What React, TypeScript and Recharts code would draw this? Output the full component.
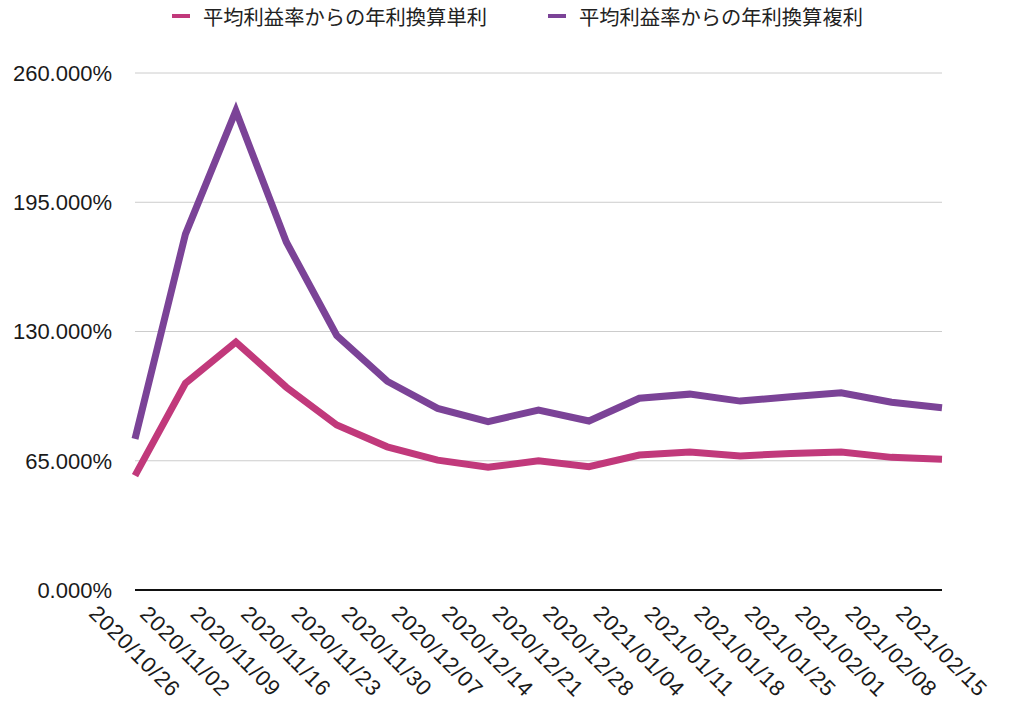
import React from "react";
import { LineChart, Line, XAxis, YAxis, CartesianGrid } from "recharts";

const dates = [
  "2020/10/26", "2020/11/02", "2020/11/09", "2020/11/16", "2020/11/23",
  "2020/11/30", "2020/12/07", "2020/12/14", "2020/12/21", "2020/12/28",
  "2021/01/04", "2021/01/11", "2021/01/18", "2021/01/25", "2021/02/01",
  "2021/02/08", "2021/02/15",
];
const simple = [57.5, 104, 124.7, 102, 83, 72, 65.3, 61.7, 65, 62, 67.9, 69.4, 67.4, 68.7, 69.4, 66.7, 65.7];
const compound = [76, 179, 241, 175, 128, 105, 91.3, 84.7, 90.5, 85, 96.4, 98.5, 95, 97.2, 99.2, 94.4, 91.7];
const yTicks = [0, 65, 130, 195, 260];
const seriesNames = ["平均利益率からの年利換算単利", "平均利益率からの年利換算複利"];

const PINK = "#c1397b";
const PURPLE = "#7b4397";
const FONT = "'Liberation Sans', Arial, sans-serif";

const data = dates.map((d, i) => ({ date: d, simple: simple[i], compound: compound[i] }));

const XTick = (props: any) => {
  const { x, y, payload } = props;
  const cy = y + 61;
  return (
    <text
      x={x}
      y={cy}
      dy="0.35em"
      textAnchor="middle"
      transform={`rotate(45, ${x}, ${cy})`}
      fontFamily={FONT}
      fontSize={22}
      letterSpacing={0.8}
      fill="#1a1a1a"
    >
      {payload.value}
    </text>
  );
};

const LegendItem = ({ color, label, left }: { color: string; label: string; left: number }) => (
  <div style={{ position: "absolute", left, top: 2, display: "flex", alignItems: "center", height: 28 }}>
    <div style={{ width: 18, height: 4, background: color, marginRight: 13 }} />
    <span style={{ fontFamily: "'Noto Sans CJK JP', sans-serif", fontSize: 20.3, color: "#222", whiteSpace: "nowrap" }}>
      {label}
    </span>
  </div>
);

export default function App() {
  return (
    <div style={{ position: "absolute", left: 0, top: 0, width: 1024, height: 716, background: "#fff" }}>
      <LegendItem color={PINK} label={seriesNames[0]} left={172} />
      <LegendItem color={PURPLE} label={seriesNames[1]} left={548} />
      <LineChart width={1024} height={716} data={data} margin={{ top: 73, right: 82, bottom: 0, left: 0 }}>
        <CartesianGrid vertical={false} stroke="#cccccc" strokeWidth={1} />
        <XAxis
          dataKey="date"
          interval={0}
          height={126}
          tickLine={false}
          tickSize={0}
          tickMargin={0}
          axisLine={{ stroke: "#111", strokeWidth: 2 }}
          tick={<XTick />}
        />
        <YAxis
          width={135}
          domain={[0, 260]}
          ticks={yTicks}
          interval={0}
          axisLine={false}
          tickLine={false}
          tickSize={0}
          tickMargin={23}
          tickFormatter={(v: number) => v.toFixed(3) + "%"}
          tick={{ fontFamily: FONT, fontSize: 22, fill: "#1a1a1a" }}
        />
        <Line
          dataKey="simple"
          name={seriesNames[0]}
          stroke={PINK}
          strokeWidth={7}
          dot={false}
          activeDot={false}
          type="linear"
          isAnimationActive={false}
        />
        <Line
          dataKey="compound"
          name={seriesNames[1]}
          stroke={PURPLE}
          strokeWidth={7}
          dot={false}
          activeDot={false}
          type="linear"
          isAnimationActive={false}
        />
      </LineChart>
    </div>
  );
}
